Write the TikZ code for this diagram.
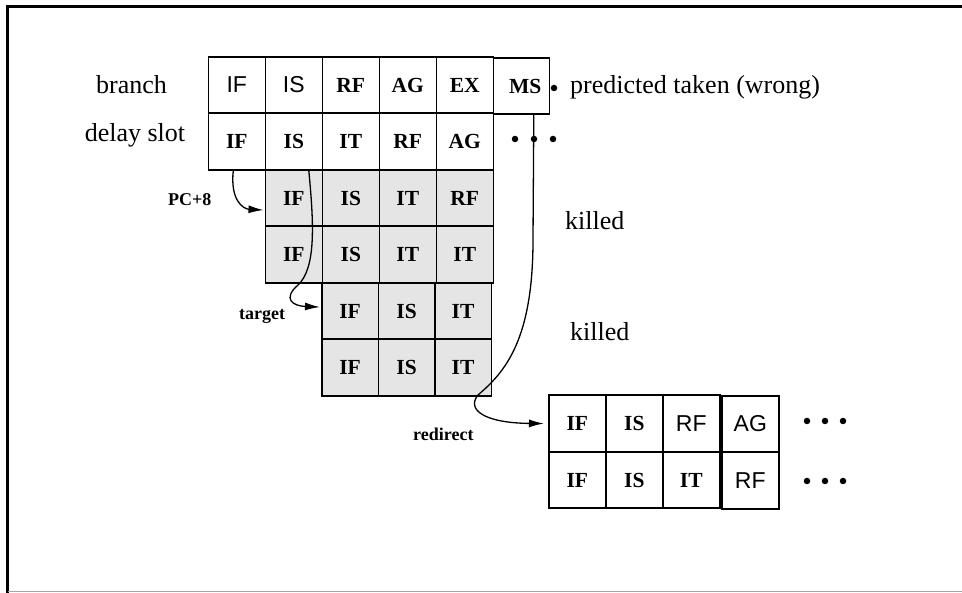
\documentclass[tikz,border=0pt]{standalone}
\usepackage{fontspec}
\setmainfont{Liberation Serif}
\setsansfont{Liberation Sans}
\usetikzlibrary{arrows.meta,calc}
\begin{document}
\begin{tikzpicture}[x=1pt,y=-1pt,
  cell/.style={draw, line width=1.6pt, minimum width=57pt, minimum height=56.5pt, inner sep=0pt, anchor=north west},
  gcell/.style={cell, fill=gray!20},
  bf/.style={font=\fontsize{21.5}{24}\selectfont\bfseries},
  sf/.style={font=\fontsize{23}{26}\selectfont\sffamily},
  lab/.style={font=\fontsize{26}{30}\selectfont, inner sep=0pt},
  slab/.style={font=\fontsize{18}{22}\selectfont\bfseries, inner sep=0pt, anchor=base west},
  dot/.style={circle, fill=black, inner sep=0pt, minimum size=6.5pt},
  arr/.style={line width=1.3pt, -{Latex[length=15pt,width=8pt]}}]
\useasboundingbox (0,0) rectangle (962,593);
% frame
\draw[line width=3pt] (7.5,593) -- (7.5,6.5) -- (962,6.5);
\draw[line width=1pt, gray!70] (7.5,591.5) -- (962,591.5);
% branch row
\node[cell,sf] (b1) at (207.5,56) {IF};
\node[cell,sf] (b2) at (264.5,56) {IS};
\node[cell,bf] (b3) at (321.5,56) {RF};
\node[cell,bf] (b4) at (378.5,56) {AG};
\node[cell,bf] (b5) at (435.5,56) {EX};
\node[cell,bf,minimum width=56pt,minimum height=56pt] (ms) at (492.5,57.5) {\hspace{8pt}MS};
% delay slot row
\node[cell,bf] (d1) at (207.5,112.5) {IF};
\node[cell,bf] (d2) at (264.5,112.5) {IS};
\node[cell,bf] (d3) at (321.5,112.5) {IT};
\node[cell,bf] (d4) at (378.5,112.5) {RF};
\node[cell,bf] (d5) at (435.5,112.5) {AG};
% PC+8 block
\node[gcell,bf] (g11) at (264.5,169) {IF};
\node[gcell,bf] (g12) at (321.5,169) {IS};
\node[gcell,bf] (g13) at (378.5,169) {IT};
\node[gcell,bf] (g14) at (435.5,169) {RF};
\node[gcell,bf] (g21) at (264.5,225.5) {IF};
\node[gcell,bf] (g22) at (321.5,225.5) {IS};
\node[gcell,bf] (g23) at (378.5,225.5) {IT};
\node[gcell,bf] (g24) at (435.5,225.5) {IT};
% target block
\node[gcell,bf,minimum width=56.5pt] (t11) at (321,282) {IF};
\node[gcell,bf,minimum width=56.5pt] (t12) at (377.5,282) {IS};
\node[gcell,bf,minimum width=56.5pt] (t13) at (434,282) {IT};
\node[gcell,bf,minimum width=56.5pt] (t21) at (321,338.5) {IF};
\node[gcell,bf,minimum width=56.5pt] (t22) at (377.5,338.5) {IS};
\node[gcell,bf,minimum width=56.5pt] (t23) at (434,338.5) {IT};
% redirect block
\node[cell,bf] (r11) at (548,394.5) {IF};
\node[cell,bf] (r12) at (605,394.5) {IS};
\node[cell,sf] (r13) at (662,394.5) {RF};
\node[cell,sf] (r14) at (721,395) {AG};
\node[cell,bf] (r21) at (548,451) {IF};
\node[cell,bf] (r22) at (605,451) {IS};
\node[cell,bf] (r23) at (662,451) {IT};
\node[cell,sf] (r24) at (721,451.5) {RF};
% labels
\node[lab, anchor=base] (lbranch) at (131.5,93.5) {branch};
\node[lab, anchor=base] (ldelay) at (135,142) {delay slot};
\node[lab, anchor=base west] (lpred) at (570,94) {predicted taken (wrong)};
\node[lab, anchor=base west] (lk1) at (565,229.5) {killed};
\node[lab, anchor=base west] (lk2) at (570,341) {killed};
\node[slab] (lpc) at (168,206) {PC+8};
\node[slab] (ltarget) at (239,320) {target};
\node[slab] (lredirect) at (413,441) {redirect};
% dots
\node[dot] (m0) at (554,88) {};
\node[dot] (m1) at (515,139) {};
\node[dot] (m2) at (534,139) {};
\node[dot] (m3) at (553,139) {};
\node[dot] (p1) at (807,421) {};
\node[dot] (p2) at (825,421) {};
\node[dot] (p3) at (843,421) {};
\node[dot] (q1) at (807,481) {};
\node[dot] (q2) at (825,481) {};
\node[dot] (q3) at (843,481) {};
% arrows
\draw[arr] ($(d1.south)+(-3.5,0)$) .. controls (230,200) and (243,209) .. ($(g11.west)+(-1,12)$);
\draw[arr] ($(d2.south)+(15,0)$) .. controls (314,225) and (316,268) .. (298,285)
   .. controls (282,299) and (293,306) .. ($(t11.west)+(-1,-4)$);
\draw[arr] ($(ms.south)+(12.5,0)$) -- (533,240) .. controls (533,340) and (505,372) .. (478,395)
   .. controls (466,410) and (485,423) .. ($(r11.west)+(-4,0)$);
\end{tikzpicture}
\end{document}
